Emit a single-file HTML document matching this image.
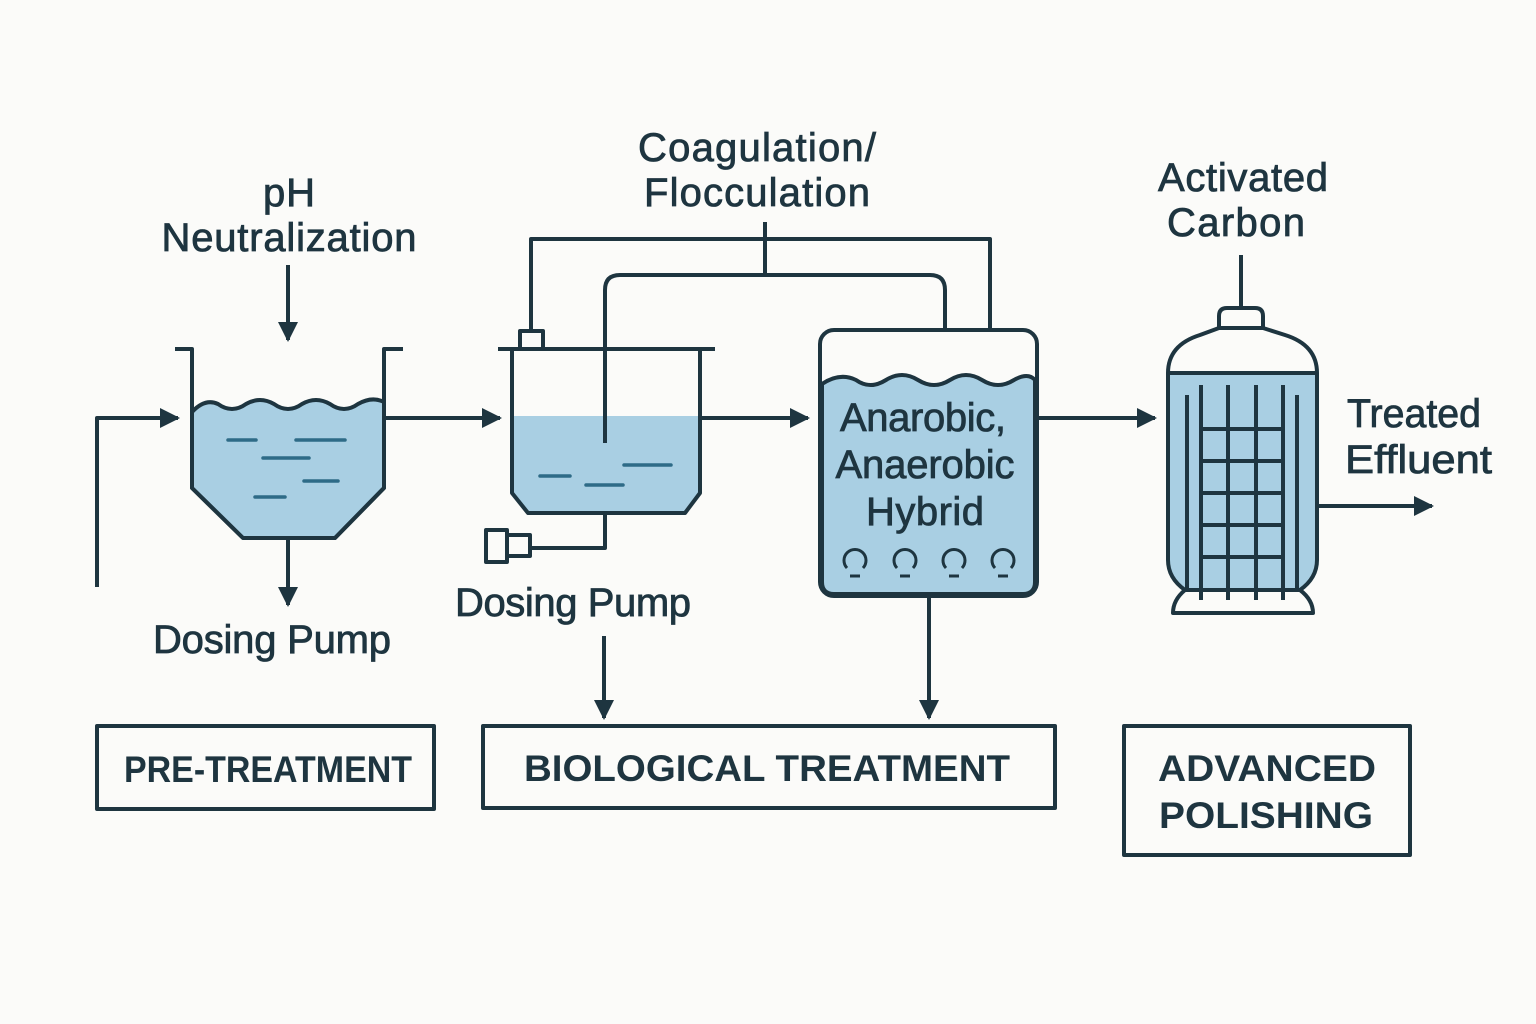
<!DOCTYPE html>
<html><head><meta charset="utf-8"><style>
html,body{margin:0;padding:0;background:#fbfbf9;}
svg{display:block}
text{font-family:"Liberation Sans",sans-serif;fill:#1e3540;}
</style></head><body>
<svg width="1536" height="1024" viewBox="0 0 1536 1024" xmlns="http://www.w3.org/2000/svg">
<defs>
<marker id="a2" viewBox="0 0 10 10" refX="9" refY="5" markerWidth="20" markerHeight="22" orient="auto" markerUnits="userSpaceOnUse"><path d="M0,0 L10,5 L0,10z" fill="#1e3540"/></marker></defs>
<rect width="1536" height="1024" fill="#fbfbf9"/>
<g stroke="#1e3540" stroke-width="4" fill="none" stroke-linejoin="round">
<line x1="288" y1="265" x2="288" y2="340" marker-end="url(#a2)"/>
<polyline points="97,587 97,418 178,418" marker-end="url(#a2)"/>
<path d="M192,412 Q205,398 218,404 Q232,414 246,404 Q260,396 274,404 Q288,414 302,404 Q316,396 330,404 Q344,414 358,404 Q372,396 384,402 L384,488 L335,538 L243,538 L192,488Z" fill="#a9cfe3"/>
<polyline points="175,349 192,349 192,488 243,538 335,538 384,488 384,349 403,349"/>
<line x1="288" y1="540" x2="288" y2="605" marker-end="url(#a2)"/>
<line x1="384" y1="418" x2="500" y2="418" marker-end="url(#a2)"/>
<path d="M512,416 L700,416 L700,493 L685,513 L528,513 L512,493Z" fill="#a9cfe3" stroke="none"/>
<line x1="498" y1="349" x2="715" y2="349"/>
<polyline points="512,349 512,493 528,513 685,513 700,493 700,349"/>
<rect x="520" y="331" width="23" height="18"/>
<polyline points="605,513 605,548 530,548"/>
<rect x="486" y="530" width="21" height="32"/>
<rect x="507" y="535" width="23" height="21"/>
<line x1="700" y1="418" x2="808" y2="418" marker-end="url(#a2)"/>
<polyline points="531,331 531,239 990,239 990,330"/>
<line x1="765" y1="222" x2="765" y2="275"/>
<path d="M605,443 L605,290 Q605,275 620,275 L930,275 Q945,275 945,290 L945,330"/>
<rect x="820" y="330" width="217" height="266" rx="14"/>
<path d="M822,384 Q840,372 856,380 Q870,390 886,380 Q902,370 918,380 Q934,390 950,380 Q966,370 982,380 Q998,390 1014,380 Q1028,372 1035,380 L1035,582 Q1035,594 1023,594 L834,594 Q822,594 822,582Z" fill="#a9cfe3"/>
<line x1="929" y1="596" x2="929" y2="718" marker-end="url(#a2)"/>
<line x1="604" y1="636" x2="604" y2="718" marker-end="url(#a2)"/>
<line x1="1037" y1="418" x2="1155" y2="418" marker-end="url(#a2)"/>
<line x1="1241" y1="255" x2="1241" y2="308"/>
<path d="M1219,328 L1219,316 Q1219,308 1227,308 L1255,308 Q1263,308 1263,316 L1263,328"/>
<path d="M1168,373 L1317,373 L1317,560 Q1317,580 1300,590 L1185,590 Q1168,580 1168,560Z" fill="#a9cfe3" stroke="none"/>
<path d="M1168,373 Q1168,345 1200,335 L1219,328 L1263,328 L1285,335 Q1317,345 1317,373 L1317,560 Q1317,578 1300,590 L1185,590 Q1168,578 1168,560 Z"/>
<line x1="1168" y1="373" x2="1317" y2="373"/>
<path d="M1185,590 Q1173,600 1173,613 L1313,613 Q1313,600 1300,590"/>
<line x1="1187" y1="395" x2="1187" y2="590"/><line x1="1297" y1="395" x2="1297" y2="590"/>
<line x1="1201" y1="385" x2="1201" y2="600"/><line x1="1228" y1="385" x2="1228" y2="600"/>
<line x1="1256" y1="385" x2="1256" y2="600"/><line x1="1283" y1="385" x2="1283" y2="600"/>
<line x1="1201" y1="429" x2="1283" y2="429"/><line x1="1201" y1="461" x2="1283" y2="461"/>
<line x1="1201" y1="493" x2="1283" y2="493"/><line x1="1201" y1="525" x2="1283" y2="525"/>
<line x1="1201" y1="557" x2="1283" y2="557"/>
<line x1="1317" y1="506" x2="1432" y2="506" marker-end="url(#a2)"/>
<g stroke-width="3">
<path d="M847,568 A11,11 0 1 1 863,568"/><line x1="850" y1="576" x2="860" y2="576"/>
<path d="M897,568 A11,11 0 1 1 913,568"/><line x1="900" y1="576" x2="910" y2="576"/>
<path d="M946,568 A11,11 0 1 1 962,568"/><line x1="949" y1="576" x2="959" y2="576"/>
<path d="M995,568 A11,11 0 1 1 1011,568"/><line x1="998" y1="576" x2="1008" y2="576"/>
</g>
<rect x="97" y="726" width="337" height="83"/>
<rect x="483" y="726" width="572" height="82"/>
<rect x="1124" y="726" width="286" height="129"/>
</g>
<g stroke="#2e6b87" stroke-width="3.5" stroke-linecap="round">
<line x1="228" y1="440" x2="256" y2="440"/><line x1="296" y1="440" x2="345" y2="440"/>
<line x1="263" y1="458" x2="309" y2="458"/><line x1="304" y1="481" x2="338" y2="481"/>
<line x1="255" y1="497" x2="285" y2="497"/>
<line x1="540" y1="476" x2="570" y2="476"/><line x1="586" y1="485" x2="623" y2="485"/>
<line x1="624" y1="465" x2="671" y2="465"/>
</g>
<g font-size="40" text-anchor="middle" stroke="#1e3540" stroke-width="0.8" lengthAdjust="spacingAndGlyphs">
<text x="289" y="206" textLength="52">pH</text>
<text x="289" y="251" textLength="255">Neutralization</text>
<text x="757" y="161" textLength="238">Coagulation/</text>
<text x="757" y="206" textLength="226">Flocculation</text>
<text x="1243" y="191" textLength="170">Activated</text>
<text x="1236" y="236" textLength="138">Carbon</text>
<text x="923" y="431" textLength="166">Anarobic,</text>
<text x="925" y="478" textLength="179">Anaerobic</text>
<text x="925" y="525" textLength="118">Hybrid</text>
<text x="272" y="653" textLength="238">Dosing Pump</text>
<text x="573" y="616" textLength="236">Dosing Pump</text>
</g>
<g font-size="40" text-anchor="start" stroke="#1e3540" stroke-width="0.8">
<text x="1347" y="427" textLength="134" lengthAdjust="spacingAndGlyphs">Treated</text>
<text x="1345" y="473" textLength="147" lengthAdjust="spacingAndGlyphs">Effluent</text>
</g>
<g font-size="37" font-weight="bold" text-anchor="middle">
<text x="268" y="782" textLength="288" lengthAdjust="spacingAndGlyphs">PRE-TREATMENT</text>
<text x="767" y="781" textLength="486" lengthAdjust="spacingAndGlyphs">BIOLOGICAL TREATMENT</text>
<text x="1267" y="781" textLength="218" lengthAdjust="spacingAndGlyphs">ADVANCED</text>
<text x="1266" y="828" textLength="214" lengthAdjust="spacingAndGlyphs">POLISHING</text>
</g>
</svg>
</body></html>
